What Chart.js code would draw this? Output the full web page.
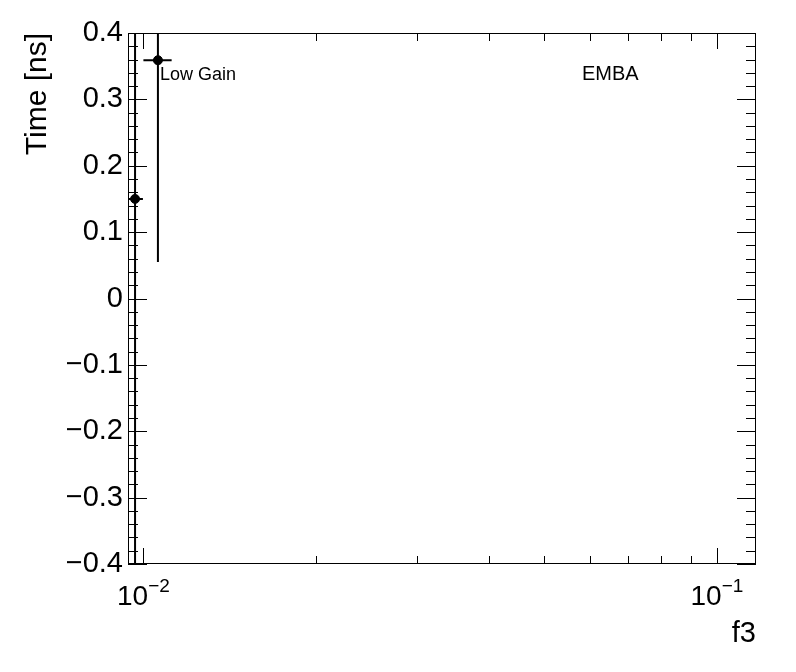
<!DOCTYPE html>
<html>
<head>
<meta charset="utf-8">
<script src="https://cdn.jsdelivr.net/npm/chart.js@4/dist/chart.umd.min.js"></script>
<style>
    html, body { margin: 0; padding: 0; background: #fff; }
    #wrap { width: 796px; height: 672px; }
</style>
</head>
<body>
<div id="wrap"><canvas id="myChart" width="796" height="672"></canvas></div>
<script>
// data
const xValues = [0.00967, 0.0106];
const xErrors = [0.00031, 0.0006];
const yValues = [0.15, 0.359];
const yErrors = [0.6, 0.304];

// axes
const xMin = 0.0094;
const xMax = 0.117;
const yMin = -0.4;
const yMax = 0.4;
const yTickValues = [-0.4, -0.3, -0.2, -0.1, 0, 0.1, 0.2, 0.3, 0.4];
const xMajorTicks = [0.01, 0.1];
const xMajorExponents = ["\u22122", "\u22121"];
const xMinorTicks = [0.02, 0.03, 0.04, 0.05, 0.06, 0.07, 0.08, 0.09];

// annotations
const xTitle = "f3";
const yTitle = "Time [ns]";
const leftNote = "Low Gain";
const rightNote = "EMBA";

const FONT = "'Liberation Sans', Arial, Helvetica, sans-serif";
Chart.defaults.font.family = FONT;
Chart.defaults.color = "#000";

function formatY(v) {
    if (Math.abs(v) < 1e-9) return "0";
    const s = Math.abs(v).toFixed(1);
    return v < 0 ? "\u2212" + s : s;
}

// error bars under the markers
const errorBars = {
    id: "errorBars",
    beforeDatasetsDraw(chart) {
        const { ctx, chartArea, scales } = chart;
        const x = scales.x, y = scales.y;
        ctx.save();
        ctx.beginPath();
        ctx.rect(chartArea.left, chartArea.top, chartArea.right - chartArea.left, chartArea.bottom - chartArea.top);
        ctx.clip();
        ctx.strokeStyle = "#000";
        ctx.lineWidth = 2;
        for (let i = 0; i < xValues.length; i++) {
            const px = x.getPixelForValue(xValues[i]);
            const py = y.getPixelForValue(yValues[i]);
            ctx.beginPath();
            ctx.moveTo(x.getPixelForValue(xValues[i] - xErrors[i]), py);
            ctx.lineTo(x.getPixelForValue(xValues[i] + xErrors[i]), py);
            ctx.moveTo(px, y.getPixelForValue(yValues[i] - yErrors[i]));
            ctx.lineTo(px, y.getPixelForValue(yValues[i] + yErrors[i]));
            ctx.stroke();
        }
        ctx.restore();
    }
};

// frame, inner ticks, x labels, notes
const frameAndTicks = {
    id: "frameAndTicks",
    afterDraw(chart) {
        const { ctx, chartArea, scales } = chart;
        const { left, right, top, bottom } = chartArea;
        const x = scales.x, y = scales.y;
        ctx.save();
        ctx.strokeStyle = "#000";
        ctx.lineWidth = 1;
        ctx.strokeRect(left + 0.5, top + 0.5, right - left - 1, bottom - top - 1);

        ctx.beginPath();
        // y ticks, left and right
        for (let i = 0; i < yTickValues.length; i++) {
            const py = Math.round(y.getPixelForValue(yTickValues[i])) + 0.5;
            ctx.moveTo(left, py); ctx.lineTo(left + 19, py);
            ctx.moveTo(right, py); ctx.lineTo(right - 19, py);
            if (i < yTickValues.length - 1) {
                const step = (yTickValues[i + 1] - yTickValues[i]) / 5;
                for (let k = 1; k < 5; k++) {
                    const pm = Math.round(y.getPixelForValue(yTickValues[i] + k * step)) + 0.5;
                    ctx.moveTo(left, pm); ctx.lineTo(left + 10, pm);
                    ctx.moveTo(right, pm); ctx.lineTo(right - 10, pm);
                }
            }
        }
        // x ticks, bottom and top
        xMajorTicks.forEach(v => {
            const px = Math.round(x.getPixelForValue(v)) + 0.5;
            ctx.moveTo(px, bottom); ctx.lineTo(px, bottom - 16);
            ctx.moveTo(px, top); ctx.lineTo(px, top + 16);
        });
        xMinorTicks.forEach(v => {
            const px = Math.round(x.getPixelForValue(v)) + 0.5;
            ctx.moveTo(px, bottom); ctx.lineTo(px, bottom - 8);
            ctx.moveTo(px, top); ctx.lineTo(px, top + 8);
        });
        ctx.stroke();

        // x labels as 10 with a raised exponent
        ctx.fillStyle = "#000";
        ctx.textBaseline = "alphabetic";
        ctx.textAlign = "left";
        xMajorTicks.forEach((v, i) => {
            const px = x.getPixelForValue(v);
            ctx.font = "28px " + FONT;
            const wBase = ctx.measureText("10").width;
            ctx.font = "19px " + FONT;
            const wExp = ctx.measureText(xMajorExponents[i]).width;
            const x0 = px - (wBase + wExp) / 2;
            ctx.font = "28px " + FONT;
            ctx.fillText("10", x0, bottom + 41);
            ctx.font = "19px " + FONT;
            ctx.fillText(xMajorExponents[i], x0 + wBase, bottom + 28);
        });

        // notes
        ctx.font = "18px " + FONT;
        ctx.fillText(leftNote, left + 32, top + 47);
        ctx.font = "20px " + FONT;
        ctx.fillText(rightNote, left + 454, top + 47);
        ctx.restore();
    }
};

const points = xValues.map((v, i) => ({ x: v, y: yValues[i] }));

const myChart = new Chart(document.getElementById("myChart"), {
    type: "scatter",
    data: {
        datasets: [{
            data: points,
            pointRadius: 4.5,
            pointHoverRadius: 4.5,
            pointBackgroundColor: "#000",
            pointBorderColor: "#000",
            showLine: false
        }]
    },
    options: {
        responsive: false,
        animation: false,
        layout: { padding: { top: 33, right: 40, left: 0, bottom: 0 } },
        plugins: { legend: { display: false }, tooltip: { enabled: false } },
        scales: {
            x: {
                type: "logarithmic",
                position: "bottom",
                min: xMin,
                max: xMax,
                grid: { display: false, drawTicks: false },
                border: { display: false },
                ticks: { display: false },
                title: {
                    display: true,
                    text: xTitle,
                    align: "end",
                    color: "#000",
                    font: { size: 29 },
                    padding: { top: 0, bottom: 21 }
                },
                afterFit(scale) { scale.height = 108; }
            },
            y: {
                type: "linear",
                position: "left",
                min: yMin,
                max: yMax,
                grid: { display: false, drawTicks: false },
                border: { display: false },
                afterBuildTicks(scale) {
                    scale.ticks = yTickValues.map(v => ({ value: v }));
                },
                ticks: {
                    color: "#000",
                    font: { size: 29 },
                    padding: 5,
                    callback: v => formatY(v)
                },
                title: {
                    display: true,
                    text: yTitle,
                    align: "end",
                    color: "#000",
                    font: { size: 30 },
                    padding: { top: 20, bottom: 0 }
                },
                afterFit(scale) { scale.width = 128; }
            }
        }
    },
    plugins: [errorBars, frameAndTicks]
});
</script>
</body>
</html>
